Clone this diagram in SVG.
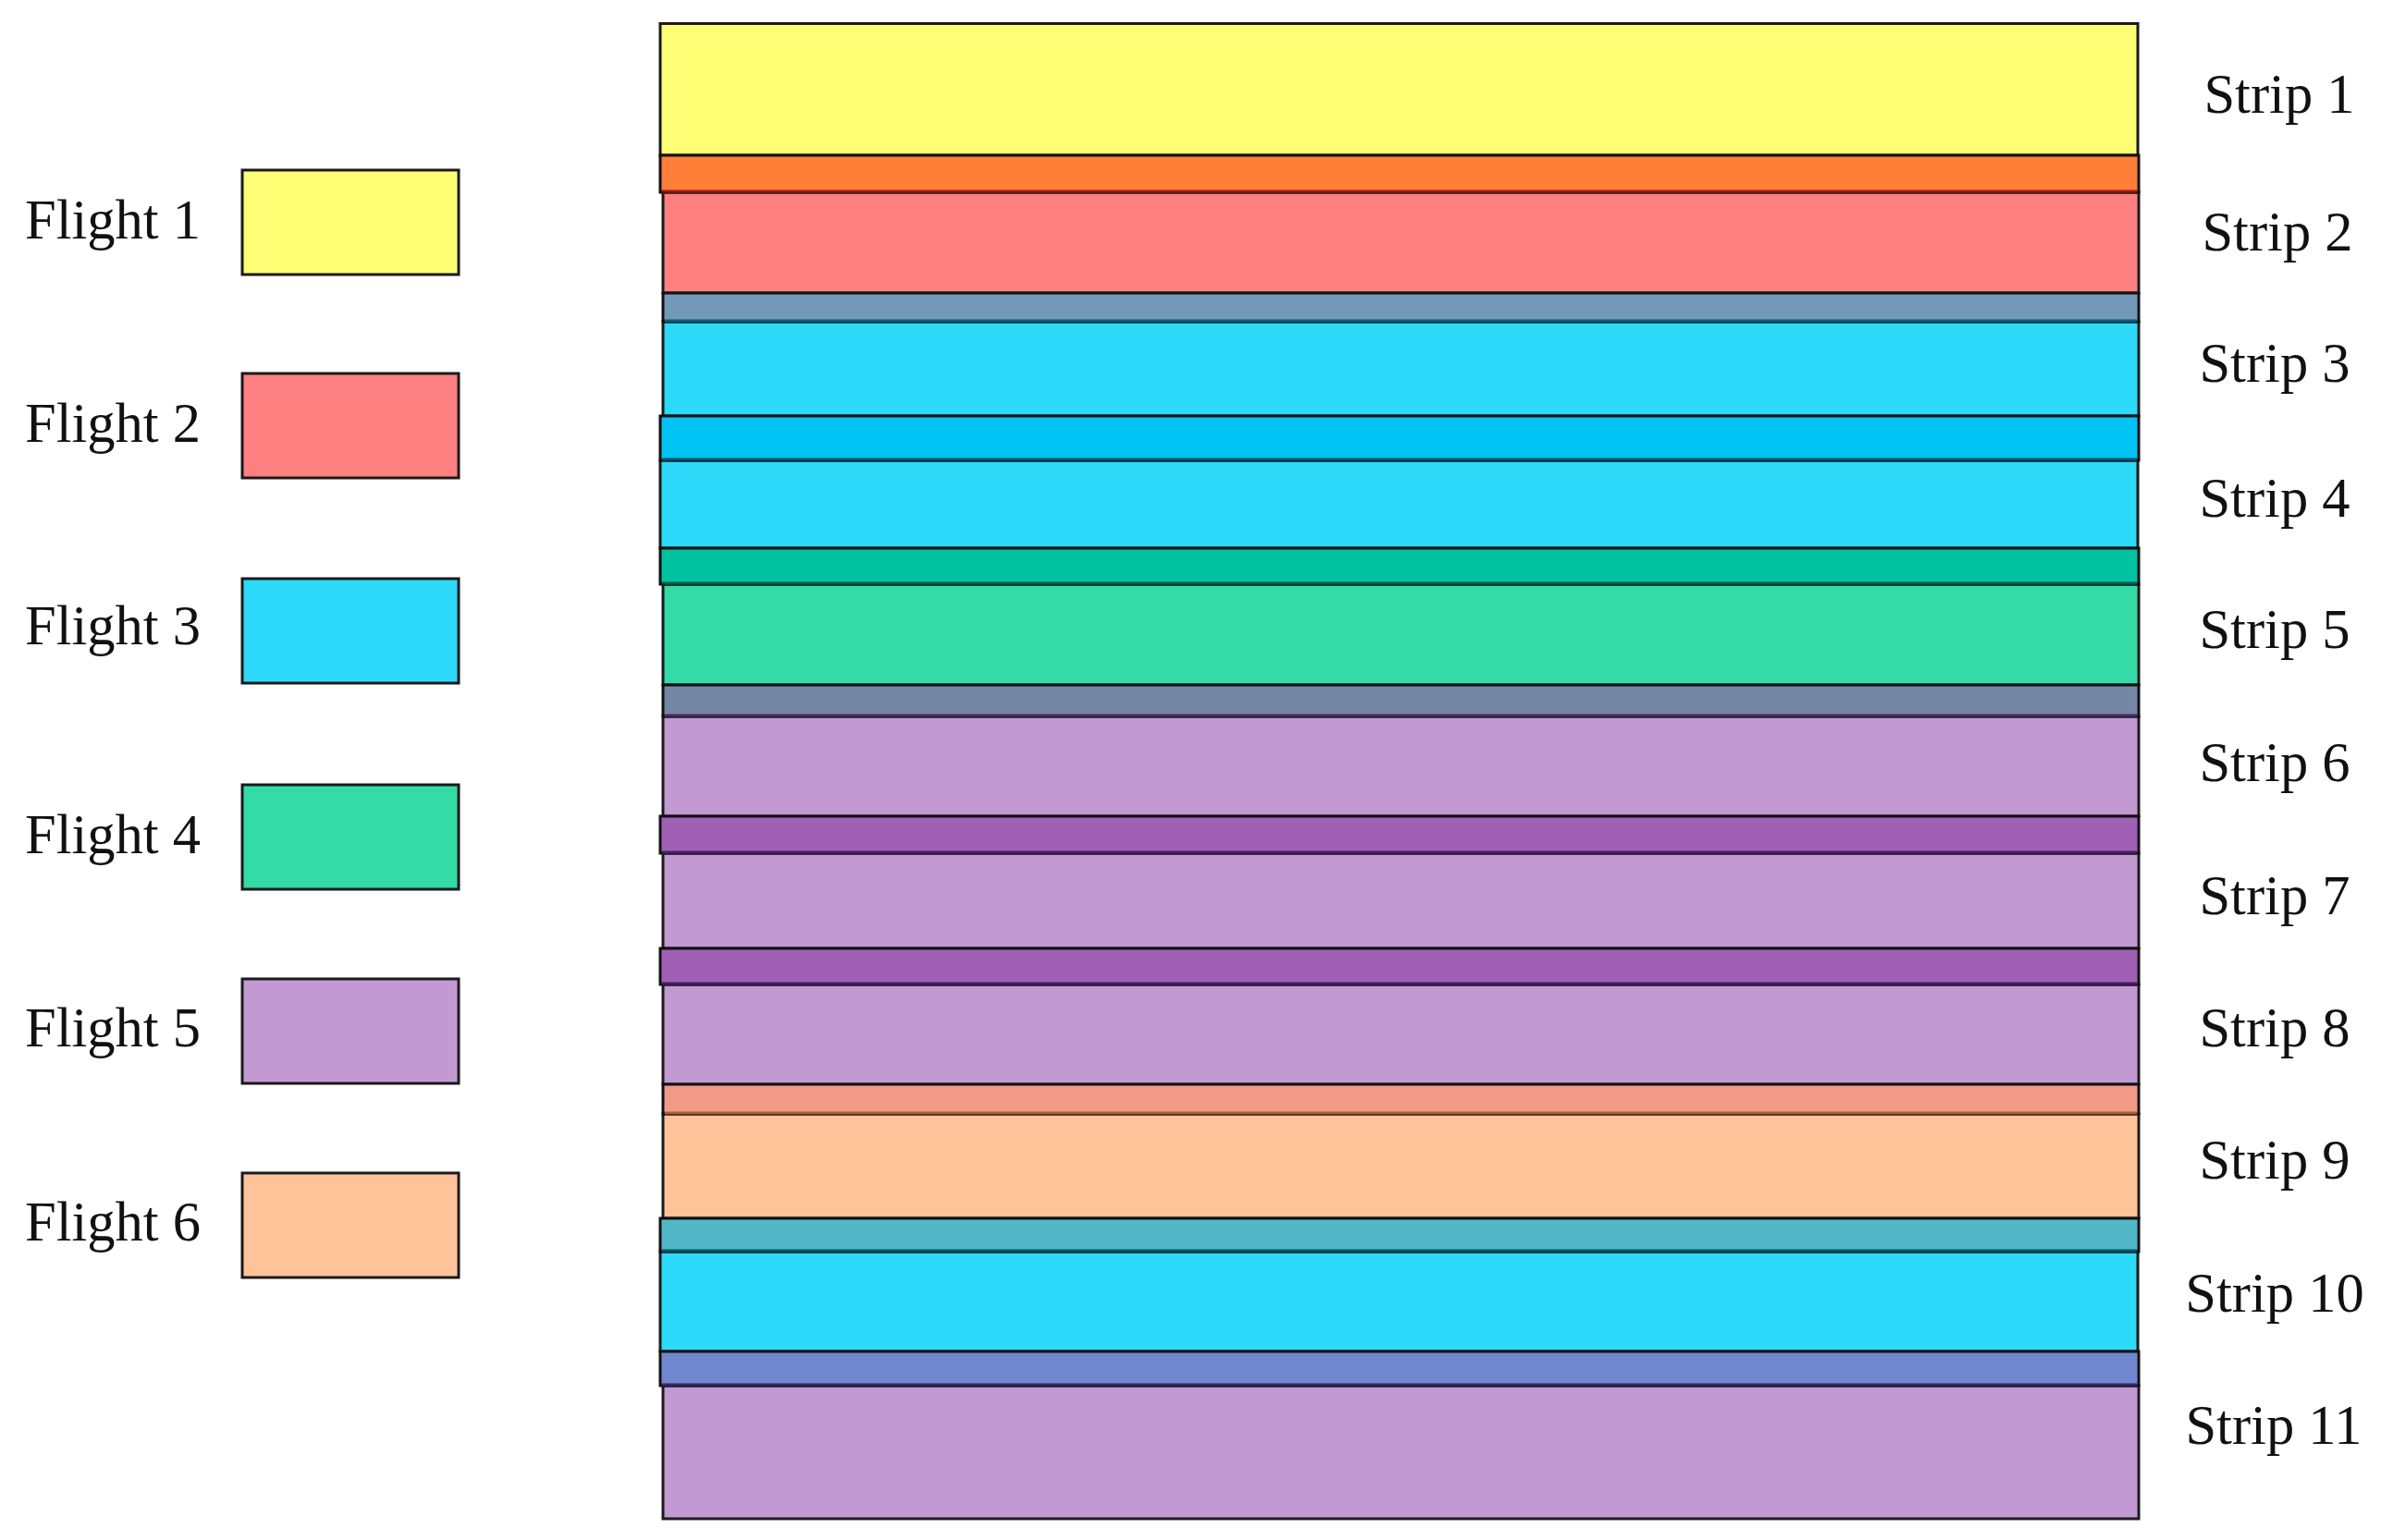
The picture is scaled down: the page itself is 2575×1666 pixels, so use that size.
<svg xmlns="http://www.w3.org/2000/svg" width="2575" height="1666" viewBox="0 0 2575 1666">
<style>
.lbl{font-family:"Liberation Serif","DejaVu Serif",serif;font-size:60.5px;fill:#111}
.box{stroke:#1a1a1a;stroke-width:3}
.strip{stroke:#1a1a1a;stroke-width:3}
.band{stroke:#111;stroke-width:3}
.yel{fill:#FEFE75}.red{fill:#FE7F80}.cya{fill:#2DDAFA}.grn{fill:#33DBA6}.pur{fill:#C399D3}.pch{fill:#FFC399}
</style>
<rect width="2575" height="1666" fill="#ffffff"/>
<g id="legend">
<g id="flight1"><text class="lbl" x="27" y="258">Flight 1</text><rect class="box yel" x="262" y="184" width="234" height="113"/></g>
<g id="flight2"><text class="lbl" x="27" y="478">Flight 2</text><rect class="box red" x="262" y="404" width="234" height="113"/></g>
<g id="flight3"><text class="lbl" x="27" y="697">Flight 3</text><rect class="box cya" x="262" y="626" width="234" height="113"/></g>
<g id="flight4"><text class="lbl" x="27" y="923">Flight 4</text><rect class="box grn" x="262" y="849" width="234" height="113"/></g>
<g id="flight5"><text class="lbl" x="27" y="1132">Flight 5</text><rect class="box pur" x="262" y="1059" width="234" height="113"/></g>
<g id="flight6"><text class="lbl" x="27" y="1342">Flight 6</text><rect class="box pch" x="262" y="1269" width="234" height="113"/></g>
</g>
<g id="strips">
<g id="strip1"><rect class="strip yel" x="714" y="25.5" width="1598" height="142.5"/><text class="lbl" x="2465" y="122" text-anchor="middle">Strip 1</text></g>
<g id="strip2"><rect class="strip red" x="717" y="208" width="1596" height="109"/><text class="lbl" x="2463" y="271" text-anchor="middle">Strip 2</text></g>
<g id="strip3"><rect class="strip cya" x="717" y="348" width="1596" height="102"/><text class="lbl" x="2460" y="413" text-anchor="middle">Strip 3</text></g>
<g id="strip4"><rect class="strip cya" x="714" y="498" width="1598" height="95"/><text class="lbl" x="2460" y="559" text-anchor="middle">Strip 4</text></g>
<g id="strip5"><rect class="strip grn" x="717" y="632" width="1596" height="109"/><text class="lbl" x="2460" y="701" text-anchor="middle">Strip 5</text></g>
<g id="strip6"><rect class="strip pur" x="717" y="775" width="1596" height="108"/><text class="lbl" x="2460" y="845" text-anchor="middle">Strip 6</text></g>
<g id="strip7"><rect class="strip pur" x="717" y="923" width="1596" height="103"/><text class="lbl" x="2460" y="989" text-anchor="middle">Strip 7</text></g>
<g id="strip8"><rect class="strip pur" x="717" y="1065" width="1596" height="108"/><text class="lbl" x="2460" y="1132" text-anchor="middle">Strip 8</text></g>
<g id="strip9"><rect class="strip pch" x="717" y="1205" width="1596" height="113"/><text class="lbl" x="2460" y="1275" text-anchor="middle">Strip 9</text></g>
<g id="strip10"><rect class="strip cya" x="714" y="1354" width="1598" height="108"/><text class="lbl" x="2460" y="1419" text-anchor="middle">Strip 10</text></g>
<g id="strip11"><rect class="strip pur" x="717" y="1499" width="1596" height="144"/><text class="lbl" x="2459" y="1562" text-anchor="middle">Strip 11</text></g>
</g>
<g id="overlaps">
<rect class="band" x="714" y="168" width="1599" height="40" fill="#FF7F38"/><line x1="716" y1="207" x2="2311" y2="207" stroke="#A81212" stroke-width="3"/>
<rect class="band" x="717" y="317" width="1596" height="31" fill="#7399B9"/><line x1="719" y1="347" x2="2311" y2="347" stroke="#00607F" stroke-width="3"/>
<rect class="band" x="714" y="450" width="1599" height="48" fill="#00C4F4"/><line x1="716" y1="497" x2="2311" y2="497" stroke="#06506A" stroke-width="3"/>
<rect class="band" x="714" y="593" width="1599" height="39" fill="#00C2A0"/><line x1="716" y1="631" x2="2311" y2="631" stroke="#0A5A48" stroke-width="3"/>
<rect class="band" x="717" y="741" width="1596" height="34" fill="#7486A6"/><line x1="719" y1="774" x2="2311" y2="774" stroke="#4A2A5E" stroke-width="3"/>
<rect class="band" x="714" y="883" width="1599" height="40" fill="#A060B6"/><line x1="716" y1="922" x2="2311" y2="922" stroke="#4A2060" stroke-width="3"/>
<rect class="band" x="714" y="1026" width="1599" height="39" fill="#A060B6"/><line x1="716" y1="1064" x2="2311" y2="1064" stroke="#4A2060" stroke-width="3"/>
<rect class="band" x="717" y="1173" width="1596" height="32" fill="#F29A88"/><line x1="719" y1="1204" x2="2311" y2="1204" stroke="#A8603E" stroke-width="3"/>
<rect class="band" x="714" y="1318" width="1599" height="36" fill="#52B8C8"/><line x1="716" y1="1353" x2="2311" y2="1353" stroke="#05586A" stroke-width="3"/>
<rect class="band" x="714" y="1462" width="1599" height="37" fill="#7088CF"/><line x1="716" y1="1498" x2="2311" y2="1498" stroke="#3A2466" stroke-width="3"/>
</g>
</svg>
